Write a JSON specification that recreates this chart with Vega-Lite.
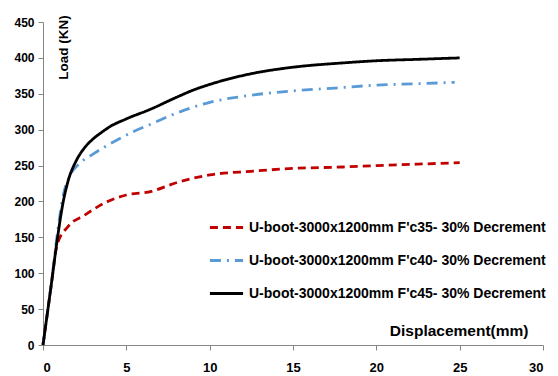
{
  "$schema": "https://vega.github.io/schema/vega-lite/v6.json",
  "width": 500,
  "height": 323,
  "autosize": {"type": "none"},
  "padding": {"left": 43, "top": 22, "right": 15, "bottom": 31},
  "background": "white",
  "config": {"view": {"stroke": null}, "font": "Liberation Sans"},
  "data": {"values": [
    {"s": "U-boot-3000x1200mm F'c35- 30% Decrement", "x": 0, "y": 0},
    {"s": "U-boot-3000x1200mm F'c35- 30% Decrement", "x": 0.5, "y": 84},
    {"s": "U-boot-3000x1200mm F'c35- 30% Decrement", "x": 0.85, "y": 140},
    {"s": "U-boot-3000x1200mm F'c35- 30% Decrement", "x": 1.5, "y": 165},
    {"s": "U-boot-3000x1200mm F'c35- 30% Decrement", "x": 2.5, "y": 181},
    {"s": "U-boot-3000x1200mm F'c35- 30% Decrement", "x": 3.8, "y": 199},
    {"s": "U-boot-3000x1200mm F'c35- 30% Decrement", "x": 5, "y": 209},
    {"s": "U-boot-3000x1200mm F'c35- 30% Decrement", "x": 6.5, "y": 214},
    {"s": "U-boot-3000x1200mm F'c35- 30% Decrement", "x": 8, "y": 226},
    {"s": "U-boot-3000x1200mm F'c35- 30% Decrement", "x": 10, "y": 237},
    {"s": "U-boot-3000x1200mm F'c35- 30% Decrement", "x": 12.5, "y": 242},
    {"s": "U-boot-3000x1200mm F'c35- 30% Decrement", "x": 15, "y": 246},
    {"s": "U-boot-3000x1200mm F'c35- 30% Decrement", "x": 18, "y": 248},
    {"s": "U-boot-3000x1200mm F'c35- 30% Decrement", "x": 20, "y": 250},
    {"s": "U-boot-3000x1200mm F'c35- 30% Decrement", "x": 22.5, "y": 252},
    {"s": "U-boot-3000x1200mm F'c35- 30% Decrement", "x": 25, "y": 254},
    {"s": "U-boot-3000x1200mm F'c40- 30% Decrement", "x": 0, "y": 0},
    {"s": "U-boot-3000x1200mm F'c40- 30% Decrement", "x": 0.5, "y": 85},
    {"s": "U-boot-3000x1200mm F'c40- 30% Decrement", "x": 0.9, "y": 162},
    {"s": "U-boot-3000x1200mm F'c40- 30% Decrement", "x": 1.2, "y": 207},
    {"s": "U-boot-3000x1200mm F'c40- 30% Decrement", "x": 1.6, "y": 235},
    {"s": "U-boot-3000x1200mm F'c40- 30% Decrement", "x": 2.2, "y": 253},
    {"s": "U-boot-3000x1200mm F'c40- 30% Decrement", "x": 3, "y": 266},
    {"s": "U-boot-3000x1200mm F'c40- 30% Decrement", "x": 4, "y": 280},
    {"s": "U-boot-3000x1200mm F'c40- 30% Decrement", "x": 5.4, "y": 297},
    {"s": "U-boot-3000x1200mm F'c40- 30% Decrement", "x": 6.5, "y": 308},
    {"s": "U-boot-3000x1200mm F'c40- 30% Decrement", "x": 8, "y": 323},
    {"s": "U-boot-3000x1200mm F'c40- 30% Decrement", "x": 10, "y": 338},
    {"s": "U-boot-3000x1200mm F'c40- 30% Decrement", "x": 12.5, "y": 348},
    {"s": "U-boot-3000x1200mm F'c40- 30% Decrement", "x": 15, "y": 354},
    {"s": "U-boot-3000x1200mm F'c40- 30% Decrement", "x": 17.5, "y": 358},
    {"s": "U-boot-3000x1200mm F'c40- 30% Decrement", "x": 20, "y": 362},
    {"s": "U-boot-3000x1200mm F'c40- 30% Decrement", "x": 22.5, "y": 364},
    {"s": "U-boot-3000x1200mm F'c40- 30% Decrement", "x": 24.7, "y": 366},
    {"s": "U-boot-3000x1200mm F'c45- 30% Decrement", "x": 0, "y": 0},
    {"s": "U-boot-3000x1200mm F'c45- 30% Decrement", "x": 0.5, "y": 85},
    {"s": "U-boot-3000x1200mm F'c45- 30% Decrement", "x": 0.85, "y": 146},
    {"s": "U-boot-3000x1200mm F'c45- 30% Decrement", "x": 1.2, "y": 198},
    {"s": "U-boot-3000x1200mm F'c45- 30% Decrement", "x": 1.5, "y": 228},
    {"s": "U-boot-3000x1200mm F'c45- 30% Decrement", "x": 2, "y": 257},
    {"s": "U-boot-3000x1200mm F'c45- 30% Decrement", "x": 2.5, "y": 275},
    {"s": "U-boot-3000x1200mm F'c45- 30% Decrement", "x": 3, "y": 287},
    {"s": "U-boot-3000x1200mm F'c45- 30% Decrement", "x": 3.5, "y": 296},
    {"s": "U-boot-3000x1200mm F'c45- 30% Decrement", "x": 4, "y": 304},
    {"s": "U-boot-3000x1200mm F'c45- 30% Decrement", "x": 5, "y": 315},
    {"s": "U-boot-3000x1200mm F'c45- 30% Decrement", "x": 6.5, "y": 329},
    {"s": "U-boot-3000x1200mm F'c45- 30% Decrement", "x": 8, "y": 345},
    {"s": "U-boot-3000x1200mm F'c45- 30% Decrement", "x": 9, "y": 355},
    {"s": "U-boot-3000x1200mm F'c45- 30% Decrement", "x": 10, "y": 363},
    {"s": "U-boot-3000x1200mm F'c45- 30% Decrement", "x": 12.5, "y": 378},
    {"s": "U-boot-3000x1200mm F'c45- 30% Decrement", "x": 15, "y": 387},
    {"s": "U-boot-3000x1200mm F'c45- 30% Decrement", "x": 18, "y": 393},
    {"s": "U-boot-3000x1200mm F'c45- 30% Decrement", "x": 20, "y": 396},
    {"s": "U-boot-3000x1200mm F'c45- 30% Decrement", "x": 22.5, "y": 398},
    {"s": "U-boot-3000x1200mm F'c45- 30% Decrement", "x": 25, "y": 400}
  ]},
  "mark": {"type": "line", "interpolate": "monotone", "strokeWidth": 2.8},
  "encoding": {
    "x": {"field": "x", "type": "quantitative",
      "scale": {"domain": [0, 30], "nice": false},
      "axis": {"values": [0, 5, 10, 15, 20, 25, 30], "grid": false, "title": "Displacement(mm)",
        "titleX": 485, "titleY": -15, "titleAlign": "right", "titleBaseline": "middle", "titleFontSize": 15.5, "titleFontWeight": "bold", "titleColor": "black",
        "labelFontSize": 13, "labelFontWeight": "bold", "labelColor": "black", "labelPadding": 11,
        "domainColor": "#868686", "tickColor": "#868686", "tickSize": 5}},
    "y": {"field": "y", "type": "quantitative",
      "scale": {"domain": [0, 450], "nice": false},
      "axis": {"values": [0, 50, 100, 150, 200, 250, 300, 350, 400, 450], "grid": false, "title": "Load (KN)",
        "titleX": 20, "titleY": 25, "titleAlign": "center", "titleBaseline": "middle", "titleAngle": -90, "titleFontSize": 13.5, "titleFontWeight": "bold", "titleColor": "black",
        "labelFontSize": 12, "labelFontWeight": "bold", "labelColor": "black", "labelPadding": 4,
        "domainColor": "#868686", "tickColor": "#868686", "tickSize": 5}},
    "color": {"field": "s", "type": "nominal",
      "scale": {"range": ["#C00000", "#5B9BD5", "#000000"]},
      "legend": {"title": null, "orient": "none", "legendX": 165, "legendY": 187,
        "symbolType": "stroke", "symbolSize": 1100, "symbolStrokeWidth": 3,
        "labelFontSize": 14, "labelFontWeight": "bold", "labelColor": "black", "labelLimit": 400,
        "rowPadding": 7, "labelOffset": 4}},
    "strokeDash": {"field": "s", "type": "nominal",
      "scale": {"range": [[8, 5], [11, 6, 2, 6], [1, 0]]},
      "legend": null}
  }
}
